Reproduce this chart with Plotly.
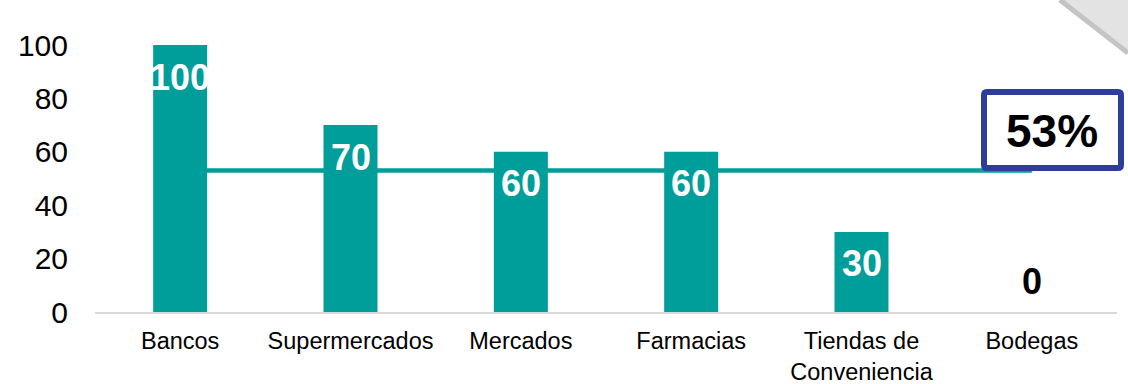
import plotly.graph_objects as go

# Puntos de venta y porcentaje de aceptación
categorias = ["Bancos", "Supermercados", "Mercados", "Farmacias",
              "Tiendas de<br>Conveniencia", "Bodegas"]
valores = [100, 70, 60, 60, 30, 0]
ticks_y = [0, 20, 40, 60, 80, 100]

promedio = round(sum(valores) / len(valores))  # 53

TEAL = "#009E9A"
AZUL = "#2E3D9C"
FUENTE = "Liberation Sans, Arial, sans-serif"

W, H = 1128, 384
M_L, M_R, M_T, M_B = 95, 11, 45, 72
PW, PH = W - M_L - M_R, H - M_T - M_B


def px_x(p):
    return (p - M_L) / PW


def px_y(p):
    return (H - M_B - p) / PH


def rect_redondeado(x0, y0, x1, y1, r):
    """Trayectoria SVG de un rectángulo con esquinas redondeadas (en píxeles)."""
    pts = [
        ("M", x0 + r, y0), ("L", x1 - r, y0), ("Q", x1, y0, x1, y0 + r),
        ("L", x1, y1 - r), ("Q", x1, y1, x1 - r, y1), ("L", x0 + r, y1),
        ("Q", x0, y1, x0, y1 - r), ("L", x0, y0 + r), ("Q", x0, y0, x0 + r, y0),
    ]
    partes = []
    for p in pts:
        cmd, coords = p[0], p[1:]
        xy = []
        for i in range(0, len(coords), 2):
            xy.append(f"{px_x(coords[i])},{px_y(coords[i + 1])}")
        partes.append(cmd + " " + " ".join(xy))
    return " ".join(partes) + " Z"


fig = go.Figure()

# Línea del promedio
fig.add_trace(go.Scatter(
    x=categorias, y=[promedio] * len(categorias), mode="lines",
    line=dict(color=TEAL, width=4.5), hoverinfo="skip", showlegend=False,
))

fig.add_trace(go.Bar(
    x=categorias, y=valores, marker=dict(color=TEAL, line=dict(width=0)),
    showlegend=False,
))

# Etiquetas de valor
for c, v in zip(categorias, valores):
    if v > 0:
        fig.add_annotation(x=c, y=v, yshift=-32, text=f"<b>{v}</b>",
                           showarrow=False,
                           font=dict(family=FUENTE, size=36, color="white"))
    else:
        fig.add_annotation(x=c, y=v, yshift=31, text=f"<b>{v}</b>",
                           showarrow=False,
                           font=dict(family=FUENTE, size=36, color="black"))

# Recuadro del promedio
fig.add_shape(type="path", xref="paper", yref="paper",
              path=rect_redondeado(984, 92, 1121, 168, 3),
              line=dict(color=AZUL, width=6), fillcolor="white", layer="above")
fig.add_annotation(xref="paper", yref="paper", x=px_x(1052), y=px_y(131),
                   xanchor="center", yanchor="middle",
                   text=f"<b>{promedio}%</b>", showarrow=False,
                   font=dict(family=FUENTE, size=46, color="black"))

# Esquina decorativa
fig.add_shape(type="path", xref="paper", yref="paper",
              path=(f"M {px_x(1060)},{px_y(0)} L {px_x(1128)},{px_y(0)} "
                    f"L {px_x(1128)},{px_y(53)} Z"),
              fillcolor="#E3E3E3", line=dict(width=0), layer="above")
fig.add_shape(type="line", xref="paper", yref="paper",
              x0=px_x(1060), y0=px_y(0), x1=px_x(1128), y1=px_y(53),
              line=dict(color="#C4C4C4", width=5), layer="above")

fig.update_layout(
    width=W, height=H,
    margin=dict(l=M_L, r=M_R, t=M_T, b=M_B),
    paper_bgcolor="white", plot_bgcolor="white",
    bargap=0.683,
    font=dict(family=FUENTE, color="black"),
    xaxis=dict(showgrid=False, zeroline=False, showline=True,
               linecolor="#D9D9D9", linewidth=2, ticks="",
               tickfont=dict(size=23.5, color="black"), ticklabelstandoff=7,
               automargin=False, fixedrange=True),
    yaxis=dict(range=[0, 100], tickvals=ticks_y, showgrid=False,
               zeroline=False, showline=False, ticks="",
               tickfont=dict(size=30, color="black"), ticklabelstandoff=26,
               automargin=False, fixedrange=True),
)

fig.write_html("out.html")
